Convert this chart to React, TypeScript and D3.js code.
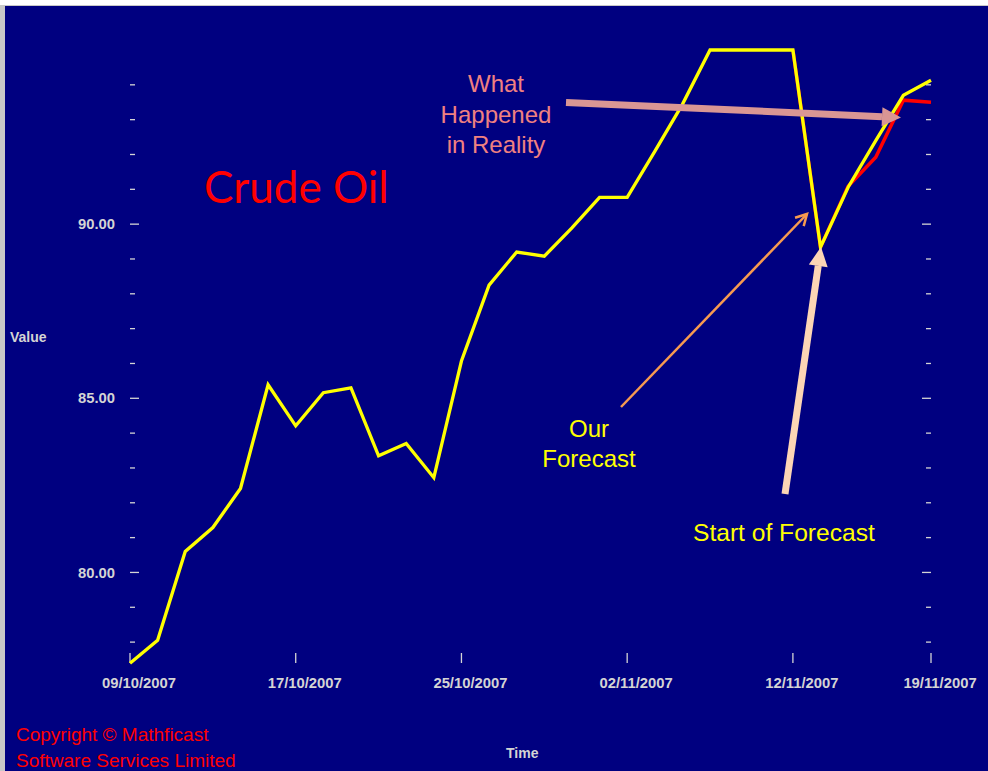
import React from "react";
import * as d3 from "d3";

const dates = [
  "09/10/2007", "10/10/2007", "11/10/2007", "12/10/2007", "15/10/2007",
  "16/10/2007", "17/10/2007", "18/10/2007", "19/10/2007", "22/10/2007",
  "23/10/2007", "24/10/2007", "25/10/2007", "26/10/2007", "29/10/2007",
  "30/10/2007", "31/10/2007", "01/11/2007", "02/11/2007", "05/11/2007",
  "06/11/2007", "07/11/2007", "08/11/2007", "09/11/2007", "12/11/2007",
  "13/11/2007", "14/11/2007", "15/11/2007", "16/11/2007", "19/11/2007",
];

const forecastValues = [
  77.39, 78.05, 80.6, 81.29, 82.41, 85.39, 84.21, 85.16, 85.3, 83.35,
  83.7, 82.72, 86.07, 88.25, 89.2, 89.08, 89.89, 90.77, 90.77, 92.09,
  93.44, 95.0, 95.0, 95.0, 95.0, 89.34, 91.06, 92.4, 93.7, 94.13,
];

const realityValues = [
  77.39, 78.05, 80.6, 81.29, 82.41, 85.39, 84.21, 85.16, 85.3, 83.35,
  83.7, 82.72, 86.07, 88.25, 89.2, 89.08, 89.89, 90.77, 90.77, 92.09,
  93.44, 95.0, 95.0, 95.0, 95.0, 89.34, 91.09, 91.92, 93.56, 93.5,
];

const labelledDates = ["09/10/2007", "17/10/2007", "25/10/2007", "02/11/2007", "12/11/2007", "19/11/2007"];
const majorTicks = [80, 85, 90];
const minorTicks = [78, 79, 81, 82, 83, 84, 86, 87, 88, 89, 91, 92, 93, 94];

const W = 988;
const H = 771;
const LEFT = 130;
const RIGHT = 931;
const TOP = 50;
const BOTTOM = 663;

const tickColor = "#D4D4D4";
const boldFont = "'Liberation Sans', Arial, sans-serif";

function arrowHead(x1: number, y1: number, x2: number, y2: number, len: number, half: number) {
  const dx = x2 - x1;
  const dy = y2 - y1;
  const L = Math.sqrt(dx * dx + dy * dy);
  const ux = dx / L;
  const uy = dy / L;
  const bx = x2 - ux * len;
  const by = y2 - uy * len;
  const px = -uy;
  const py = ux;
  return {
    bx,
    by,
    p1: [bx + px * half, by + py * half],
    p2: [bx - px * half, by - py * half],
  };
}

export default function App() {
  const x = d3.scalePoint<string>().domain(dates).range([LEFT, RIGHT]);
  const y = d3.scaleLinear().domain([77.4, 95]).range([BOTTOM, TOP]);

  const line = d3
    .line<number>()
    .x((_, i) => x(dates[i]) as number)
    .y((d) => y(d));

  const redStart = 24;
  const redPath = d3
    .line<number>()
    .x((_, i) => x(dates[i + redStart]) as number)
    .y((d) => y(d))(realityValues.slice(redStart));

  // Arrow geometry (annotations)
  const pink = { x1: 566, y1: 102.5, x2: 901, y2: 117.5 };
  const pinkH = arrowHead(pink.x1, pink.y1, pink.x2, pink.y2, 19, 9.5);
  const peach = { x1: 785, y1: 494, x2: 821, y2: 247 };
  const peachH = arrowHead(peach.x1, peach.y1, peach.x2, peach.y2, 19, 9.5);
  const orange = { x1: 621, y1: 407, x2: 807, y2: 214 };
  const orangeH = arrowHead(orange.x1, orange.y1, orange.x2, orange.y2, 11, 6);

  return (
    <svg
      width={W}
      height={H}
      style={{ position: "absolute", left: 0, top: 0 }}
      xmlns="http://www.w3.org/2000/svg"
    >
      <rect x={0} y={0} width={W} height={H} fill="#FFFFFF" />
      <rect x={0} y={5} width={5} height={H - 5} fill="#C8C8C8" />
      <rect x={5} y={5} width={W - 5} height={1} fill="#C8C8C8" />
      <rect x={5} y={6} width={W - 5} height={H - 6} fill="#000080" />

      {/* Y axis ticks left & right */}
      {majorTicks.map((t) => (
        <g key={"maj" + t}>
          <line x1={LEFT} x2={LEFT + 9} y1={y(t)} y2={y(t)} stroke={tickColor} strokeWidth={1.3} />
          <line x1={RIGHT - 9} x2={RIGHT} y1={y(t)} y2={y(t)} stroke={tickColor} strokeWidth={1.3} />
          <text
            x={115}
            y={y(t)}
            dy="0.35em"
            textAnchor="end"
            fill={tickColor}
            fontFamily={boldFont}
            fontWeight="bold"
            fontSize={14.8}
          >
            {t.toFixed(2)}
          </text>
        </g>
      ))}
      {minorTicks.map((t) => (
        <g key={"min" + t}>
          <line x1={LEFT} x2={LEFT + 5} y1={y(t)} y2={y(t)} stroke={tickColor} strokeWidth={1.3} />
          <line x1={RIGHT - 5} x2={RIGHT} y1={y(t)} y2={y(t)} stroke={tickColor} strokeWidth={1.3} />
        </g>
      ))}

      {/* X axis ticks */}
      {labelledDates.map((d) => (
        <g key={d}>
          <line
            x1={x(d) as number}
            x2={x(d) as number}
            y1={BOTTOM - 10}
            y2={BOTTOM}
            stroke={tickColor}
            strokeWidth={1.3}
          />
          <text
            x={(x(d) as number) + 9}
            y={688}
            textAnchor="middle"
            fill={tickColor}
            fontFamily={boldFont}
            fontWeight="bold"
            fontSize={14.8}
          >
            {d}
          </text>
        </g>
      ))}

      <text x={10} y={342} fill={tickColor} fontFamily={boldFont} fontWeight="bold" fontSize={14}>
        Value
      </text>
      <text x={506} y={758} fill={tickColor} fontFamily={boldFont} fontWeight="bold" fontSize={14}>
        Time
      </text>

      {/* Series */}
      <path d={redPath ?? ""} fill="none" stroke="#FF0000" strokeWidth={3.5} strokeLinejoin="miter" />
      <path d={line(forecastValues) ?? ""} fill="none" stroke="#FFFF00" strokeWidth={3.3} strokeLinejoin="miter" />

      {/* Title */}
      <text x={204} y={203} fill="#FF0000" fontFamily="Lato, 'Open Sans', sans-serif" fontSize={44}>
        Crude Oil
      </text>

      {/* What happened in reality */}
      <g fill="#F08080" fontFamily="'Liberation Sans', Arial, sans-serif" fontSize={24} textAnchor="middle">
        <text x={496} y={92}>What</text>
        <text x={496} y={123}>Happened</text>
        <text x={496} y={153}>in Reality</text>
      </g>
      <line
        x1={pink.x1}
        y1={pink.y1}
        x2={pinkH.bx}
        y2={pinkH.by}
        stroke="#D99694"
        strokeWidth={7}
      />
      <polygon
        points={`${pink.x2},${pink.y2} ${pinkH.p1.join(",")} ${pinkH.p2.join(",")}`}
        fill="#D99694"
      />

      {/* Our forecast */}
      <g fill="#FFFF00" fontFamily="'Liberation Sans', Arial, sans-serif" fontSize={24} textAnchor="middle">
        <text x={589} y={437}>Our</text>
        <text x={589} y={467}>Forecast</text>
      </g>
      <line
        x1={orange.x1}
        y1={orange.y1}
        x2={orange.x2}
        y2={orange.y2}
        stroke="#F79A50"
        strokeWidth={2.5}
      />
      <polyline
        points={`${orangeH.p1.join(",")} ${orange.x2},${orange.y2} ${orangeH.p2.join(",")}`}
        fill="none"
        stroke="#F79A50"
        strokeWidth={2.5}
      />

      {/* Start of forecast */}
      <text
        x={693}
        y={541}
        fill="#FFFF00"
        fontFamily="'Liberation Sans', Arial, sans-serif"
        fontSize={24.6}
      >
        Start of Forecast
      </text>
      <line
        x1={peach.x1}
        y1={peach.y1}
        x2={peachH.bx}
        y2={peachH.by}
        stroke="#FCD5B5"
        strokeWidth={7}
      />
      <polygon
        points={`${peach.x2},${peach.y2} ${peachH.p1.join(",")} ${peachH.p2.join(",")}`}
        fill="#FCD5B5"
      />

      {/* Copyright */}
      <g fill="#FF0000" fontFamily="'Liberation Sans', Arial, sans-serif" fontSize={19}>
        <text x={16} y={741}>Copyright © Mathficast</text>
        <text x={16} y={767}>Software Services Limited</text>
      </g>
    </svg>
  );
}
